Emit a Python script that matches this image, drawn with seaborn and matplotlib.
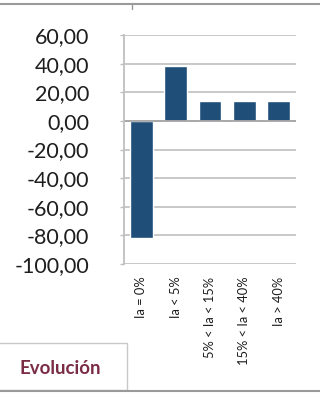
import matplotlib
matplotlib.use("Agg")
import matplotlib.pyplot as plt
import pandas as pd
import seaborn as sns
from matplotlib.lines import Line2D
from matplotlib.patches import Rectangle
from matplotlib.ticker import FuncFormatter

# ----------- DONNÉES ------------
categorias = ["Ia = 0%", "Ia < 5%", "5% < Ia < 15%", "15% < Ia < 40%", "Ia > 40%"]
valores = [-82.0, 38.5, 14.2, 14.2, 14.2]
yticks = [60, 40, 20, 0, -20, -40, -60, -80, -100]

df = pd.DataFrame({"cat": categorias, "val": valores})

sns.set_theme(style="white")
plt.rcParams["font.family"] = ["Lato", "DejaVu Sans"]

fig = plt.figure(figsize=(3.2, 3.94), dpi=100)
ax = fig.add_axes([124 / 320, 1 - 264 / 394, 172 / 320, 229 / 394])

sns.barplot(data=df, x="cat", y="val", color="#1f4e79", saturation=1,
            width=0.66, ax=ax)

ax.set_ylim(-100, 60)
ax.set_yticks(yticks)
ax.yaxis.set_major_formatter(FuncFormatter(lambda v, p: f"{v:.2f}".replace(".", ",")))
ax.grid(axis="y", color="#c4c4c4", linewidth=1.3)
ax.set_axisbelow(True)
ax.axhline(0, color="#a6a6a6", linewidth=1.3, zorder=1)
ax.set_xlabel("")
ax.set_ylabel("")

for s in ["top", "right", "bottom"]:
    ax.spines[s].set_visible(False)
ax.spines["left"].set_color("#bfbfbf")
ax.spines["left"].set_linewidth(1.3)

ax.tick_params(axis="y", labelsize=15.5, colors="#bfbfbf", labelcolor="#1e1e1e",
               length=3, width=1, pad=22, left=True)
ax.tick_params(axis="x", labelsize=9.3, labelcolor="#1e1e1e", length=0, pad=9)
for lab in ax.get_xticklabels():
    lab.set_rotation(90)

# ----------- CADRE ------------
fig.add_artist(Line2D([0, 1], [1 - 4 / 394, 1 - 4 / 394], color="#9a9a9a", lw=1.5))
fig.add_artist(Line2D([132 / 320, 132 / 320], [1 - 4 / 394, 1 - 9 / 394], color="#9a9a9a", lw=1))
fig.add_artist(Line2D([0, 1], [1 - 391 / 394, 1 - 391 / 394], color="#9a9a9a", lw=1.5))
fig.add_artist(Rectangle((-0.01, 1 - 390 / 394), 127 / 320 + 0.01, 47 / 394,
                         transform=fig.transFigure, fill=False, edgecolor="#c8c8c8", lw=1))
fig.text(60 / 320, 1 - 368 / 394, "Evolución", ha="center", va="center",
         fontsize=13.5, fontweight="bold", color="#7b2c45")

fig.savefig("out.png", dpi=100)
